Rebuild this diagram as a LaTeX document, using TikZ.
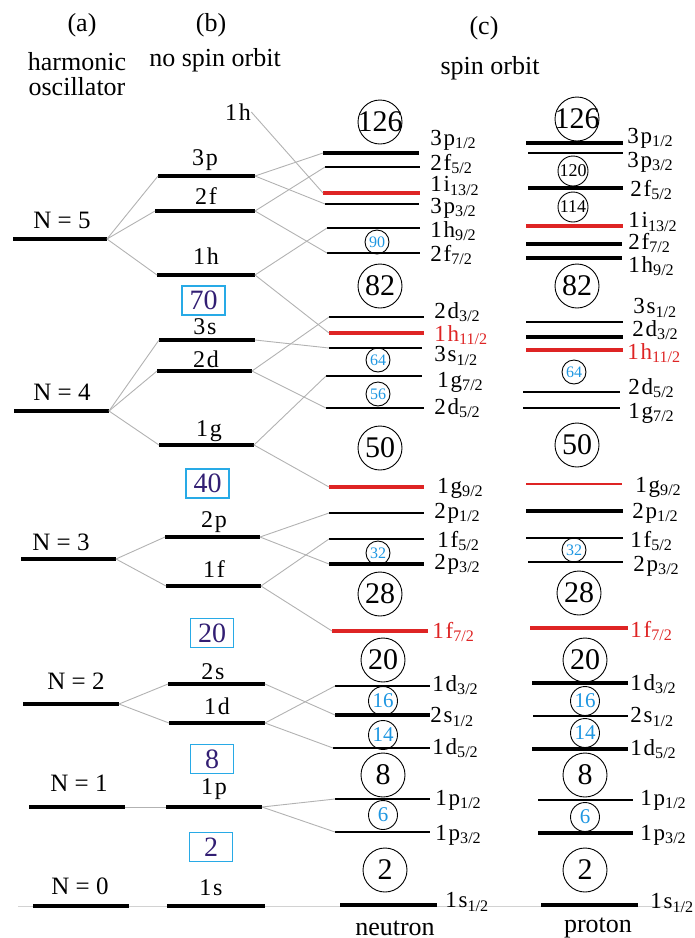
\documentclass[tikz,border=0pt]{standalone}
\usepackage{fontspec}
\setmainfont{Liberation Serif}

\definecolor{levred}{RGB}{222,36,36}
\definecolor{magblue}{RGB}{30,150,225}
\definecolor{boxblue}{RGB}{40,170,230}
\definecolor{boxtxt}{RGB}{50,30,115}

% level line: [style]{name}{x left}{x right}{y}
\newcommand{\lvl}[5][lv]{\draw[#1] (#3,#5) coordinate (#2-l) -- (#4,#5) coordinate (#2-r);}
\newcommand{\jsub}[1]{\textsubscript{#1}}
\newcommand{\kk}{\kern0.9pt}

\begin{document}
\begin{tikzpicture}[
    x=0.5pt, y=-0.5pt,
    ttl/.style={font=\fontsize{13}{14}\selectfont, inner sep=0pt},
    nlab/.style={font=\fontsize{12.5}{14}\selectfont, inner sep=0pt},
    orb/.style={font=\fontsize{12}{14}\selectfont, inner sep=0pt},
    jlab/.style={anchor=west, inner sep=0pt, font=\fontsize{11.5}{13}\selectfont},
    lv/.style={line width=1.6pt},
    lvt/.style={line width=1pt},
    lvr/.style={line width=1.6pt, levred},
    lvrt/.style={line width=1pt, levred},
    cn/.style={gray!60, line width=0.45pt},
    mag/.style={circle, draw, line width=0.45pt, minimum size=22pt, inner sep=-2pt,
                font=\fontsize{15}{16}\selectfont},
    magk/.style={circle, draw, line width=0.45pt, minimum size=15pt, inner sep=0pt,
                font=\fontsize{9}{10}\selectfont},
    mags/.style={circle, draw, line width=0.45pt, minimum size=12pt, inner sep=0pt,
                text=magblue, font=\fontsize{8}{9}\selectfont},
    magm/.style={circle, draw, line width=0.45pt, minimum size=14.5pt, inner sep=0pt,
                text=magblue, font=\fontsize{10.5}{11}\selectfont},
    hobox/.style={draw=boxblue, line width=0.7pt, text=boxtxt, minimum width=21.5pt,
                minimum height=14.5pt, inner sep=0pt, font=\fontsize{14}{15}\selectfont}
]
  \useasboundingbox (0,0) rectangle (695,938);

  % ================= headings =================
  \node[ttl] (ta)  at (82,25)  {(a)};
  \node[ttl] (ta1) at (77,62)  {harmonic};
  \node[ttl] (ta2) at (77,87)  {oscillator};
  \node[ttl] (tb)  at (211,25) {(b)};
  \node[ttl] (tb1) at (215,60) {no spin orbit};
  \node[ttl] (tc)  at (484,28) {(c)};
  \node[ttl] (tc1) at (490,68) {spin orbit};

  % ================= baseline =================
  \coordinate (base-l) at (18,906);
  \coordinate (base-r) at (692,906);
  \draw[cn, gray!35] (base-l) -- (base-r);

  % ================= (a) harmonic oscillator =================
  \lvl{N5}{13}{107}{239}
  \lvl{N4}{14}{109}{411}
  \lvl{N3}{21}{116}{559}
  \lvl{N2}{23}{119}{704}
  \lvl{N1}{29}{125}{807}
  \lvl{N0}{33}{129}{906}
  \node[nlab] (N5-t) at (62,220) {N = 5};
  \node[nlab] (N4-t) at (62,392) {N = 4};
  \node[nlab] (N3-t) at (61,542) {N = 3};
  \node[nlab] (N2-t) at (76,681) {N = 2};
  \node[nlab] (N1-t) at (79,783) {N = 1};
  \node[nlab] (N0-t) at (80,886) {N = 0};

  % ================= (b) no spin orbit =================
  \lvl{b3p}{158}{255}{176}
  \lvl{b2f}{155}{255}{211}
  \lvl{b1h}{157}{255}{275}
  \lvl{b3s}{159}{255}{340}
  \lvl{b2d}{157}{252}{371}
  \lvl{b1g}{159}{254}{445}
  \lvl{b2p}{165}{260}{537}
  \lvl{b1f}{166}{261}{586}
  \lvl{b2s}{168}{265}{684}
  \lvl{b1d}{169}{265}{723}
  \lvl{b1p}{166}{262}{807}
  \lvl{b1s}{167}{265}{906}
  \node[orb] (b3p-t) at (205,160) {3\kk p};
  \node[orb] (b2f-t) at (206,196) {2\kk f};
  \node[orb] (b1h-t) at (206,256) {1\kk h};
  \node[orb] (b3s-t) at (205,327) {3\kk s};
  \node[orb] (b2d-t) at (206,359) {2\kk d};
  \node[orb] (b1g-t) at (209,431) {1\kk g};
  \node[orb] (b2p-t) at (214,522) {2\kk p};
  \node[orb] (b1f-t) at (214,569) {1\kk f};
  \node[orb] (b2s-t) at (213,672) {2\kk s};
  \node[orb] (b1d-t) at (217,706) {1\kk d};
  \node[orb] (b1p-t) at (214,789) {1\kk p};
  \node[orb] (b1s-t) at (211,888) {1\kk s};
  \node[orb] (f1h)   at (238,112) {1\kk h};

  \node[hobox] (g70) at (203.5,300.5) {70};
  \node[hobox] (g40) at (207.5,483.5) {40};
  \node[hobox] (g20) at (212,633)     {20};
  \node[hobox] (g8)  at (212,759)     {8};
  \node[hobox] (g2)  at (211,847)     {2};

  % ================= (c) neutron =================
  \lvl{n3p1}{323}{419}{153}
  \lvl[lvt]{n2f5}{325}{420}{167}
  \lvl[lvr]{n1i13}{323}{420}{193}
  \lvl[lvt]{n3p3}{325}{419}{204}
  \lvl[lvt]{n1h9}{327}{420}{228}
  \lvl[lvt]{n2f7}{327}{420}{253}
  \lvl[lvt]{n2d3}{329}{424}{317}
  \lvl[lvr]{n1h11}{329}{424}{333}
  \lvl[lvt]{n3s1}{329}{422}{348}
  \lvl[lvt]{n1g7}{326}{422}{376}
  \lvl[lvt]{n2d5}{326}{424}{408}
  \lvl[lvr]{n1g9}{329}{424}{487}
  \lvl[lvt]{n2p1}{329}{424}{513}
  \lvl[lvt]{n1f5}{329}{424}{539}
  \lvl{n2p3}{329}{424}{564}
  \lvl[lvr]{n1f7}{332}{428}{631}
  \lvl[lvt]{n1d3}{335}{430}{686}
  \lvl{n2s1}{335}{430}{715}
  \lvl[lvt]{n1d5}{333}{430}{748}
  \lvl[lvt]{n1p1}{335}{430}{799}
  \lvl[lvt]{n1p3}{335}{430}{832}
  \lvl{n1s1}{340}{437}{905}

  \node[jlab] (n3p1-t)  at (430,140) {3\kk p\jsub{1/2}};
  \node[jlab] (n2f5-t)  at (430,164) {2\kk f\jsub{5/2}};
  \node[jlab] (n1i13-t) at (430,186) {1\kk i\jsub{13/2}};
  \node[jlab] (n3p3-t)  at (430,208) {3\kk p\jsub{3/2}};
  \node[jlab] (n1h9-t)  at (430,231) {1\kk h\jsub{9/2}};
  \node[jlab] (n2f7-t)  at (430,255) {2\kk f\jsub{7/2}};
  \node[jlab] (n2d3-t)  at (434,312) {2\kk d\jsub{3/2}};
  \node[jlab, levred] (n1h11-t) at (434,335) {1\kk h\jsub{11/2}};
  \node[jlab] (n3s1-t)  at (434,356) {3\kk s\jsub{1/2}};
  \node[jlab] (n1g7-t)  at (437,382) {1\kk g\jsub{7/2}};
  \node[jlab] (n2d5-t)  at (434,408) {2\kk d\jsub{5/2}};
  \node[jlab] (n1g9-t)  at (437,488) {1\kk g\jsub{9/2}};
  \node[jlab] (n2p1-t)  at (434,513) {2\kk p\jsub{1/2}};
  \node[jlab] (n1f5-t)  at (437,541) {1\kk f\jsub{5/2}};
  \node[jlab] (n2p3-t)  at (434,564) {2\kk p\jsub{3/2}};
  \node[jlab, levred] (n1f7-t) at (432,632) {1\kk f\jsub{7/2}};
  \node[jlab] (n1d3-t)  at (432,685) {1\kk d\jsub{3/2}};
  \node[jlab] (n2s1-t)  at (430,717) {2\kk s\jsub{1/2}};
  \node[jlab] (n1d5-t)  at (432,748) {1\kk d\jsub{5/2}};
  \node[jlab] (n1p1-t)  at (435,800) {1\kk p\jsub{1/2}};
  \node[jlab] (n1p3-t)  at (435,835) {1\kk p\jsub{3/2}};
  \node[jlab] (n1s1-t)  at (445,902) {1\kk s\jsub{1/2}};

  \node[mag]  (n126) at (380,122) {126};
  \node[mags] (n90)  at (377,242) {90};
  \node[mag]  (n82)  at (380,286) {82};
  \node[mags] (n64)  at (378,360) {64};
  \node[mags] (n56)  at (378,394) {56};
  \node[mag]  (n50)  at (380,448) {50};
  \node[mags] (n32)  at (378,553) {32};
  \node[mag]  (n28)  at (380,594) {28};
  \node[mag]  (n20)  at (383,660) {20};
  \node[magm] (n16)  at (383,701) {16};
  \node[magm] (n14)  at (383,735) {14};
  \node[mag]  (n8)   at (383,775) {8};
  \node[magm] (n6)   at (383,815) {6};
  \node[mag]  (n2)   at (385,870) {2};
  \node[ttl]  (ntxt) at (395,928) {neutron};

  % ================= (c) proton =================
  \lvl{p3p1}{526}{623}{143}
  \lvl[lvt]{p3p3}{528}{623}{153}
  \lvl{p2f5}{528}{623}{188}
  \lvl[lvr]{p1i13}{526}{623}{226}
  \lvl{p2f7}{526}{622}{244}
  \lvl{p1h9}{526}{622}{258}
  \lvl[lvt]{p3s1}{526}{623}{322}
  \lvl{p2d3}{526}{623}{337}
  \lvl[lvr]{p1h11}{526}{623}{350}
  \lvl[lvt]{p2d5}{523}{620}{392}
  \lvl[lvt]{p1g7}{523}{620}{408}
  \lvl[lvrt]{p1g9}{526}{622}{484}
  \lvl{p2p1}{526}{623}{511}
  \lvl[lvt]{p1f5}{526}{623}{538}
  \lvl[lvt]{p2p3}{528}{623}{562}
  \lvl[lvr]{p1f7}{530}{628}{628}
  \lvl{p1d3}{532}{628}{683}
  \lvl[lvt]{p2s1}{533}{628}{716}
  \lvl{p1d5}{532}{628}{749}
  \lvl[lvt]{p1p1}{538}{633}{800}
  \lvl{p1p3}{538}{633}{833}
  \lvl{p1s1}{541}{638}{905}

  \node[jlab] (p3p1-t)  at (627,138) {3\kk p\jsub{1/2}};
  \node[jlab] (p3p3-t)  at (627,162) {3\kk p\jsub{3/2}};
  \node[jlab] (p2f5-t)  at (630,190) {2\kk f\jsub{5/2}};
  \node[jlab] (p1i13-t) at (628,222) {1\kk i\jsub{13/2}};
  \node[jlab] (p2f7-t)  at (628,243) {2\kk f\jsub{7/2}};
  \node[jlab] (p1h9-t)  at (628,266) {1\kk h\jsub{9/2}};
  \node[jlab] (p3s1-t)  at (633,308) {3\kk s\jsub{1/2}};
  \node[jlab] (p2d3-t)  at (632,330) {2\kk d\jsub{3/2}};
  \node[jlab, levred] (p1h11-t) at (627,353) {1\kk h\jsub{11/2}};
  \node[jlab] (p2d5-t)  at (628,388) {2\kk d\jsub{5/2}};
  \node[jlab] (p1g7-t)  at (628,413) {1\kk g\jsub{7/2}};
  \node[jlab] (p1g9-t)  at (635,487) {1\kk g\jsub{9/2}};
  \node[jlab] (p2p1-t)  at (632,513) {2\kk p\jsub{1/2}};
  \node[jlab] (p1f5-t)  at (630,541) {1\kk f\jsub{5/2}};
  \node[jlab] (p2p3-t)  at (633,566) {2\kk p\jsub{3/2}};
  \node[jlab, levred] (p1f7-t) at (630,631) {1\kk f\jsub{7/2}};
  \node[jlab] (p1d3-t)  at (630,684) {1\kk d\jsub{3/2}};
  \node[jlab] (p2s1-t)  at (630,717) {2\kk s\jsub{1/2}};
  \node[jlab] (p1d5-t)  at (630,749) {1\kk d\jsub{5/2}};
  \node[jlab] (p1p1-t)  at (640,800) {1\kk p\jsub{1/2}};
  \node[jlab] (p1p3-t)  at (640,835) {1\kk p\jsub{3/2}};
  \node[jlab] (p1s1-t)  at (650,903) {1\kk s\jsub{1/2}};

  \node[mag]  (p126) at (577,119) {126};
  \node[magk] (p120) at (573,171) {120};
  \node[magk] (p114) at (573,207) {114};
  \node[mag]  (p82)  at (577,286) {82};
  \node[mags] (p64)  at (574,372) {64};
  \node[mag]  (p50)  at (577,445) {50};
  \node[mags] (p32)  at (574,550) {32};
  \node[mag]  (p28)  at (579,593) {28};
  \node[mag]  (p20)  at (585,660) {20};
  \node[magm] (p16)  at (585,701) {16};
  \node[magm] (p14)  at (585,733) {14};
  \node[mag]  (p8)   at (585,775) {8};
  \node[magm] (p6)   at (585,817) {6};
  \node[mag]  (p2)   at (585,870) {2};
  \node[ttl]  (ptxt) at (598,928) {proton};

  % ================= (a) -> (b) =================
  \draw[cn] (N5-r) -- (b3p-l);
  \draw[cn] (N5-r) -- (b2f-l);
  \draw[cn] (N5-r) -- (b1h-l);
  \draw[cn] (N4-r) -- (b3s-l);
  \draw[cn] (N4-r) -- (b2d-l);
  \draw[cn] (N4-r) -- (b1g-l);
  \draw[cn] (N3-r) -- (b2p-l);
  \draw[cn] (N3-r) -- (b1f-l);
  \draw[cn] (N2-r) -- (b2s-l);
  \draw[cn] (N2-r) -- (b1d-l);
  \draw[cn] (N1-r) -- (b1p-l);

  % ================= (b) -> neutron =================
  \draw[cn] (f1h.east) -- (n1i13-l);
  \draw[cn] (b3p-r) -- (n3p1-l);
  \draw[cn] (b3p-r) -- (n3p3-l);
  \draw[cn] (b2f-r) -- (n2f5-l);
  \draw[cn] (b2f-r) -- (n2f7-l);
  \draw[cn] (b1h-r) -- (n1h9-l);
  \draw[cn] (b1h-r) -- (n1h11-l);
  \draw[cn] (b3s-r) -- (n3s1-l);
  \draw[cn] (b2d-r) -- (n2d3-l);
  \draw[cn] (b2d-r) -- (n2d5-l);
  \draw[cn] (b1g-r) -- (n1g7-l);
  \draw[cn] (b1g-r) -- (n1g9-l);
  \draw[cn] (b2p-r) -- (n2p1-l);
  \draw[cn] (b2p-r) -- (n2p3-l);
  \draw[cn] (b1f-r) -- (n1f5-l);
  \draw[cn] (b1f-r) -- (n1f7-l);
  \draw[cn] (b2s-r) -- (n2s1-l);
  \draw[cn] (b1d-r) -- (n1d3-l);
  \draw[cn] (b1d-r) -- (n1d5-l);
  \draw[cn] (b1p-r) -- (n1p1-l);
  \draw[cn] (b1p-r) -- (n1p3-l);

\end{tikzpicture}
\end{document}
